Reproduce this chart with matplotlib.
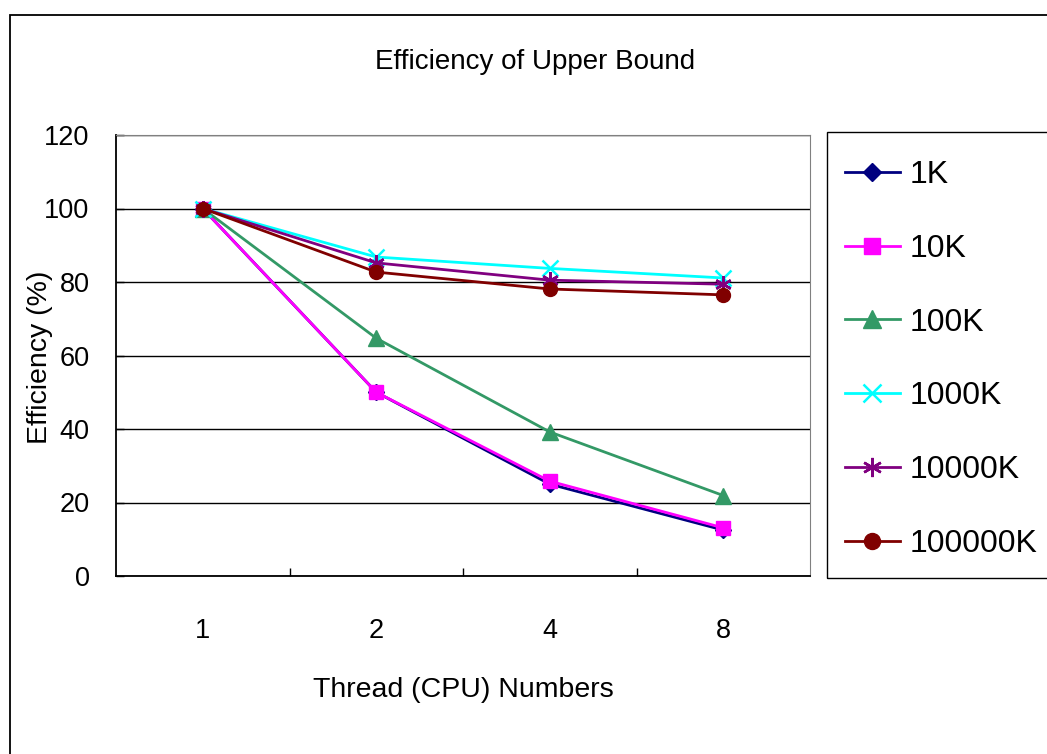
import matplotlib.pyplot as plt
from matplotlib.patches import Rectangle

plt.rcParams['font.family'] = ['Liberation Sans', 'DejaVu Sans']

# data
threads = ["1", "2", "4", "8"]
names = ["1K", "10K", "100K", "1000K", "10000K", "100000K"]
eff_1k = [100, 50, 25, 12.5]
eff_10k = [100, 50, 25.8, 13.1]
eff_100k = [100, 64.7, 39.2, 21.9]
eff_1000k = [100, 86.8, 83.7, 81.1]
eff_10000k = [100, 85.2, 80.5, 79.4]
eff_100000k = [100, 82.7, 78.1, 76.5]

series = [eff_1k, eff_10k, eff_100k, eff_1000k, eff_10000k, eff_100000k]
colors = ["#000080", "#FF00FF", "#339966", "#00FFFF", "#800080", "#800000"]
markers = ["D", "s", "^", "x", (6, 2, 0), "o"]
msizes = [8, 10, 11, 11, 12, 10]

fig = plt.figure(figsize=(10.47, 7.54), dpi=100)
ax = fig.add_axes([116/1047, 1-576/754, (810-116)/1047, (576-135)/754])

x = list(range(len(threads)))
for vals, name, c, m, ms in zip(series, names, colors, markers, msizes):
    ax.plot(x, vals, color=c, lw=2, marker=m, markersize=ms,
            markeredgewidth=1.8 if m in ("x", (6, 2, 0)) else 1,
            markerfacecolor=c, markeredgecolor=c, label=name, clip_on=False)

ax.set_xlim(-0.5, 3.5)
ax.set_ylim(0, 120)
ax.set_yticks(range(0, 121, 20))
ax.set_xticks(x)
ax.set_xticklabels(threads)
ax.set_xticks([0.5, 1.5, 2.5], minor=True)
ax.tick_params(axis='x', which='major', length=0, pad=30, labelsize=19.5)
ax.tick_params(axis='x', which='minor', direction='in', length=6, width=1)
ax.tick_params(axis='y', direction='in', length=6, width=1, pad=19, labelsize=19.5)
ax.grid(axis='y', color='black', lw=1)
ax.set_axisbelow(True)
for s in ("top", "right"):
    ax.spines[s].set_color("#808080")
for s in ("left", "bottom"):
    ax.spines[s].set_color("black")
    ax.spines[s].set_linewidth(1.3)

fig.text(535/1047, 1-62/754, "Efficiency of Upper Bound", ha='center', va='center', fontsize=20)
fig.text(463/1047, 1-690/754, "Thread (CPU) Numbers", ha='center', va='center', fontsize=20.5)
fig.text(40/1047, 1-357/754, "Efficiency (%)", ha='center', va='center', rotation=90, fontsize=20.5)

leg = ax.legend(loc='upper left', bbox_to_anchor=(845/1047, 1-160/754),
                bbox_transform=fig.transFigure, frameon=False, fontsize=23,
                labelspacing=1.37, handlelength=1.72, handletextpad=0.31,
                borderaxespad=0, borderpad=0, markerscale=1.15)

fig.patches.append(Rectangle((827/1047, 1-578/754), 0.3, (578-132)/754,
                             transform=fig.transFigure, fill=False, ec='black', lw=1))
fig.patches.append(Rectangle((10/1047, -0.1), 1.1, 1.1-15/754,
                             transform=fig.transFigure, fill=False, ec='black', lw=1.3))

fig.savefig("out.png", dpi=100)
